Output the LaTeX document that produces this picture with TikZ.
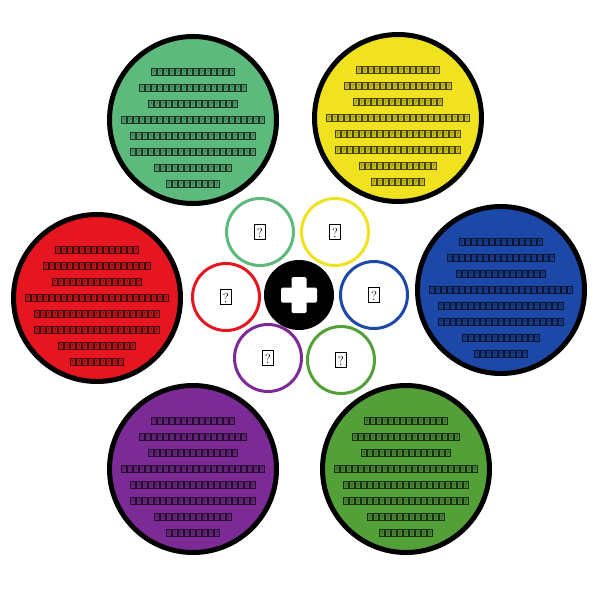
\documentclass[tikz,border=0pt]{standalone}
\usetikzlibrary{calc}
\definecolor{cA}{RGB}{93,186,125}
\definecolor{cB}{RGB}{240,226,30}
\definecolor{cC}{RGB}{230,22,32}
\definecolor{cD}{RGB}{28,72,168}
\definecolor{cE}{RGB}{124,42,150}
\definecolor{cF}{RGB}{84,160,56}
\newcount\qbc
\newcommand\qglyph[1]{\kern0.35pt{\setlength\fboxsep{0pt}\setlength\fboxrule{0.6pt}\fcolorbox{#1!30!black}{#1!85!black}{\makebox[4.1pt]{\rule{0pt}{6pt}\raisebox{0.7pt}{\fontsize{5.5}{5.5}\selectfont\color{#1!25!black}?}}}}\kern0.35pt}
\newcommand\qline[2]{\qbc=#2\relax\loop\qglyph{#1}\advance\qbc -1\ifnum\qbc>0\repeat}
\newcommand\qbig{{\setlength\fboxsep{0pt}\setlength\fboxrule{1.1pt}\fbox{\makebox[9.5pt]{\rule[-1.5pt]{0pt}{14pt}\fontsize{13}{13}\selectfont ?}}}}
\newcommand\bigtext[1]{\qline{#1}{13}\\\qline{#1}{17}\\\qline{#1}{14}\\\qline{#1}{23}\\\qline{#1}{20}\\\qline{#1}{20}\\\qline{#1}{12}\\\qline{#1}{8}}
\begin{document}
\begin{tikzpicture}[x=1pt,y=-1pt,
  bigc/.style={circle,draw=black,line width=5pt,minimum size=167pt,inner sep=0pt},
  ring/.style={circle,line width=3pt,minimum size=67pt,inner sep=0pt,fill=white},
  txt/.style={align=center,inner sep=0pt,font=\fontsize{6}{16}\selectfont},
  qn/.style={inner sep=0pt,text=black}]
\useasboundingbox (0,0) rectangle (600,600);
\fill[white] (0,0) rectangle (600,600);
% big circles
\node[bigc,fill=cA] (bA) at (193,120) {};
\node[bigc,fill=cB] (bB) at (398,118) {};
\node[bigc,fill=cC] (bC) at (97,298) {};
\node[bigc,fill=cD] (bD) at (501,290) {};
\node[bigc,fill=cE] (bE) at (193,469) {};
\node[bigc,fill=cF] (bF) at (406,469) {};
\node[txt] (tA) at (193,128) {\bigtext{cA}};
\node[txt] (tB) at (398,126) {\bigtext{cB}};
\node[txt] (tC) at (97,306) {\bigtext{cC}};
\node[txt] (tD) at (501,298) {\bigtext{cD}};
\node[txt] (tE) at (193,477) {\bigtext{cE}};
\node[txt] (tF) at (406,477) {\bigtext{cF}};
% small rings
\node[ring,draw=cA] (sA) at (260,232) {};
\node[ring,draw=cB] (sB) at (335,232) {};
\node[ring,draw=cC] (sC) at (226,297) {};
\node[ring,draw=cD] (sD) at (374,295) {};
\node[ring,draw=cE] (sE) at (268,358) {};
\node[ring,draw=cF] (sF) at (341,360) {};
\node[qn] (qA) at (sA) {\qbig};
\node[qn] (qB) at (sB) {\qbig};
\node[qn] (qC) at (sC) {\qbig};
\node[qn] (qD) at (sD) {\qbig};
\node[qn] (qE) at (sE) {\qbig};
\node[qn] (qF) at (sF) {\qbig};
% center
\node[circle,fill=black,minimum size=70pt,inner sep=0pt] (ctr) at (299,295) {};
\fill[white,rounded corners=1.5pt] ($(ctr)+(-18,-7.5)$) rectangle ($(ctr)+(18,7.5)$);
\fill[white,rounded corners=1.5pt] ($(ctr)+(-7.5,-18)$) rectangle ($(ctr)+(7.5,18)$);
\end{tikzpicture}
\end{document}
